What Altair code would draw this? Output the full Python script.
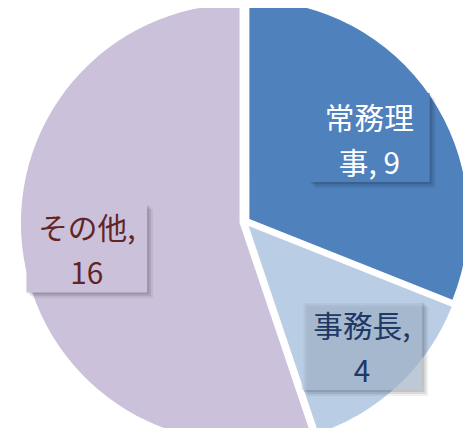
import altair as alt
import pandas as pd

categories = ["常務理事", "事務長", "その他"]
values = [9, 4, 16]
label_lines = ["常務理\n事, 9", "事務長,\n4", "その他,\n16"]

slice_colors = ["#4F81BD", "#B9CDE5", "#CCC1DA"]
text_colors = ["#FFFFFF", "#1F3864", "#632523"]
label_radius = [152, 172, 162]

df = pd.DataFrame({
    "cat": categories,
    "value": values,
    "idx": list(range(len(categories))),
    "label": label_lines,
})

CX, CY = 239.5, 214.0   # pie centre in chart pixels
R = 221                  # pie radius
D = 5.5                  # explosion distance
HW, HH = 61, 45          # half size of label boxes
LH = 45                  # label line height

lr_expr = " : ".join(
    f"datum.cat == '{c}' ? {r}" for c, r in zip(categories[:-1], label_radius[:-1])
) + f" : {label_radius[-1]}"

base = alt.Chart(df).transform_window(
    cum="sum(value)", sort=[alt.SortField("idx")], frame=[None, 0]
).transform_joinaggregate(
    total="sum(value)"
).transform_calculate(
    a0="2*PI*(datum.cum - datum.value)/datum.total",
    a1="2*PI*datum.cum/datum.total",
).transform_calculate(
    mid="(datum.a0 + datum.a1)/2",
).transform_calculate(
    cx=f"{CX} + {D}*sin(datum.mid)",
    cy=f"{CY} - {D}*cos(datum.mid)",
    lr=lr_expr,
).transform_calculate(
    lx=f"{CX} + datum.lr*sin(datum.mid)",
    ly=f"{CY} - datum.lr*cos(datum.mid)",
).transform_calculate(
    bx0=f"datum.lx - {HW}", bx1=f"datum.lx + {HW}",
    by0=f"datum.ly - {HH}", by1=f"datum.ly + {HH}",
)

arcs = base.mark_arc(outerRadius=R).encode(
    x=alt.X("cx:Q", scale=None, axis=None),
    y=alt.Y("cy:Q", scale=None, axis=None),
    theta=alt.Theta("a0:Q", scale=None),
    theta2="a1:Q",
    fill=alt.Fill("cat:N", scale=alt.Scale(domain=categories, range=slice_colors), legend=None),
)

shadows = []
for off, op in [(2, 0.10), (4, 0.09), (6, 0.06)]:
    s = base.transform_calculate(
        sx0=f"datum.bx0 + {off}", sx1=f"datum.bx1 + {off}",
        sy0=f"datum.by0 + {off}", sy1=f"datum.by1 + {off}",
    ).mark_rect(color="#000000", opacity=op).encode(
        x=alt.X("sx0:Q", scale=None, axis=None),
        x2="sx1:Q",
        y=alt.Y("sy0:Q", scale=None, axis=None),
        y2="sy1:Q",
    )
    shadows.append(s)

boxes = base.mark_rect(opacity=1).encode(
    x=alt.X("bx0:Q", scale=None, axis=None),
    x2="bx1:Q",
    y=alt.Y("by0:Q", scale=None, axis=None),
    y2="by1:Q",
    fill=alt.Fill("cat:N", scale=alt.Scale(domain=categories, range=slice_colors), legend=None),
    fillOpacity=alt.condition(f"datum.cat == '{categories[1]}'", alt.value(0.55), alt.value(1.0)),
)

texts = base.mark_text(
    font="Noto Sans CJK JP", fontSize=30, lineBreak="\n", lineHeight=LH,
    align="center", baseline="middle", dy=-LH / 2 + 5,
).encode(
    x=alt.X("lx:Q", scale=None, axis=None),
    y=alt.Y("ly:Q", scale=None, axis=None),
    text="label:N",
    color=alt.Color("cat:N", scale=alt.Scale(domain=categories, range=text_colors), legend=None),
)

chart = alt.layer(arcs, *shadows, boxes, texts).resolve_scale(
    color="independent", fill="independent"
).properties(
    width=460, height=420,
    autosize=alt.AutoSizeParams(type="none"),
    padding=0,
).configure_view(stroke=None)

chart.save("out.html", embed_options={"renderer": "svg", "actions": False})
